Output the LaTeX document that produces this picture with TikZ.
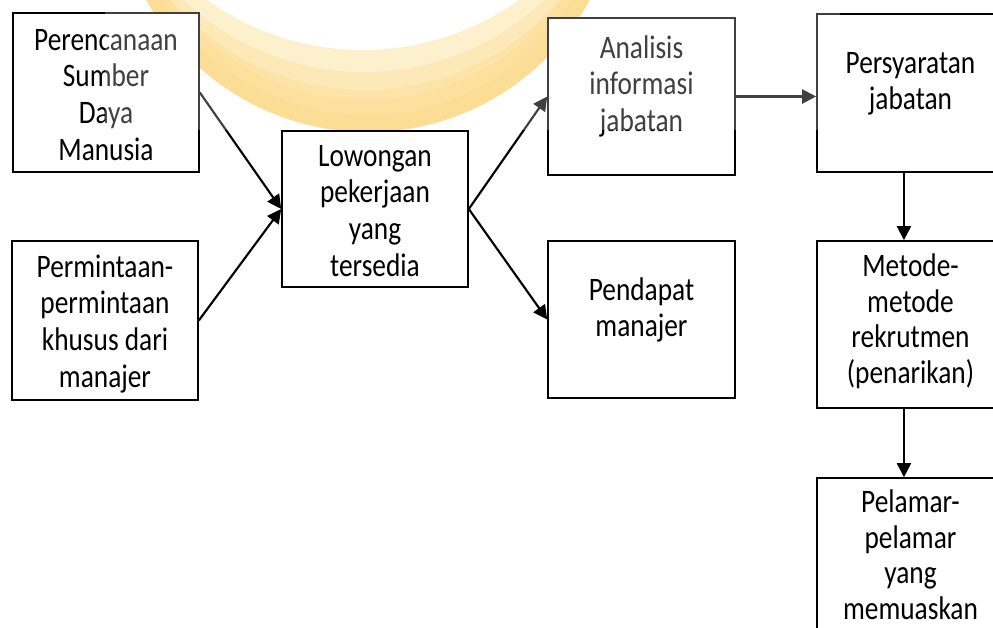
\documentclass[tikz,border=0pt]{standalone}
\usepackage{graphicx}
\usepackage{fontspec}
\setmainfont{Carlito}
\usetikzlibrary{arrows.meta}

\definecolor{wmpucat}{RGB}{253,236,188}
\definecolor{wmkuning}{RGB}{251,203,90}

% text lines in the boxes are set a little taller than wide
\newcommand{\barisan}[1]{\scalebox{1}[1.2]{\begin{tabular}{@{}c@{}}#1\end{tabular}}}

\tikzset{
  kotak/.style={draw, fill=white, line width=1.2pt, minimum width=139.5pt, inner sep=0pt},
  teks/.style={anchor=north, inner sep=0pt, font=\fontsize{20.5}{22.9}\selectfont},
  rapat/.style={font=\fontsize{20.5}{22.2}\selectfont},
  panah/.style={line width=1.6pt, -{Triangle[length=10.5pt, width=10.5pt]}},
  lapis/.style={wmkuning, fill opacity=0.28, even odd rule},
}

\begin{document}
\begin{tikzpicture}[x=0.75pt,y=0.75pt,yscale=-1,xscale=1]
        \clip (0,0) rectangle (993,628);
        %Shape: Watermark (crescent, in layers)
        \begin{scope}
        \clip (0,0) rectangle (993,130);
        \fill [wmpucat, even odd rule] (368,-120) circle (189pt) (363,-218) circle (201pt);
        \fill [lapis] (368,-120) circle (189pt) (364,-190) circle (196.5pt);
        \fill [lapis] (368,-120) circle (189pt) (365,-165) circle (191.25pt);
        \fill [lapis] (368,-120) circle (189pt) (366,-140) circle (180pt);
        \fill [lapis] (368,-120) circle (189pt) (367,-125) circle (180pt);
        \end{scope}
        %Shape: Rectangle
        \node [kotak, minimum height=119.25pt] (perencanaan) at (106,92.5) {};
        %Shape: Rectangle
        \node [kotak, minimum height=119.25pt] (permintaan) at (105,320.5) {};
        %Shape: Rectangle
        \node [kotak, minimum height=117pt] (lowongan) at (375,209) {};
        %Shape: Rectangle
        \node [kotak, minimum width=140.25pt, minimum height=117.75pt] (analisis) at (641.5,96.5) {};
        %Shape: Rectangle
        \node [kotak, minimum width=140.25pt, minimum height=117.75pt] (pendapat) at (641.5,319.5) {};
        %Shape: Rectangle
        \node [kotak, minimum width=140.25pt, minimum height=118.5pt] (persyaratan) at (910.5,93) {};
        %Shape: Rectangle
        \node [kotak, minimum width=140.25pt, minimum height=125.25pt] (metode) at (910.5,324.5) {};
        %Shape: Rectangle
        \node [kotak, minimum width=140.25pt, minimum height=121.5pt] (pelamar) at (910.5,559) {};
        %Straight Lines
        \draw [panah] (perencanaan.east) -- (lowongan.west);
        %Straight Lines
        \draw [panah] (permintaan.east) -- (lowongan.west);
        %Straight Lines
        \draw [panah] (lowongan.east) -- (analisis.west);
        %Straight Lines
        \draw [panah] (lowongan.east) -- (pendapat.west);
        %Straight Lines
        \draw [panah] (analisis.east) -- (analisis.east -| persyaratan.west);
        %Straight Lines
        \draw [panah] ([xshift=-4.9pt]persyaratan.south) -- ([xshift=-4.9pt]metode.north);
        %Straight Lines
        \draw [panah] ([xshift=-4.9pt]metode.south) -- ([xshift=-4.9pt]pelamar.north);
        % Text Node
        \node [teks] (perencanaanTeks) at (106,24.4) {\barisan{Perencanaan\\Sumber\\Daya\\Manusia}};
        % Text Node
        \node [teks] (permintaanTeks) at (105,251.4) {\barisan{Permintaan-\\permintaan\\khusus dari\\manajer}};
        % Text Node
        \node [teks] (lowonganTeks) at (375,140.4) {\barisan{Lowongan\\pekerjaan\\yang\\tersedia}};
        % Text Node
        \node [teks] (analisisTeks) at (641.5,32.4) {\barisan{Analisis\\informasi\\jabatan}};
        % Text Node
        \node [teks] (pendapatTeks) at (641.5,274.4) {\barisan{Pendapat\\manajer}};
        % Text Node
        \node [teks] (persyaratanTeks) at (910.5,47.4) {\barisan{Persyaratan\\jabatan}};
        % Text Node
        \node [teks, rapat] (metodeTeks) at (910.5,251.4) {\barisan{Metode-\\metode\\rekrutmen\\(penarikan)}};
        % Text Node
        \node [teks, rapat] (pelamarTeks) at (910.5,487.4) {\barisan{Pelamar-\\pelamar\\yang\\memuaskan}};
        %Shape: Fade over the watermark area
        \fill [white, fill opacity=0.25] (105,0) rectangle (840,130);
\end{tikzpicture}
\end{document}
